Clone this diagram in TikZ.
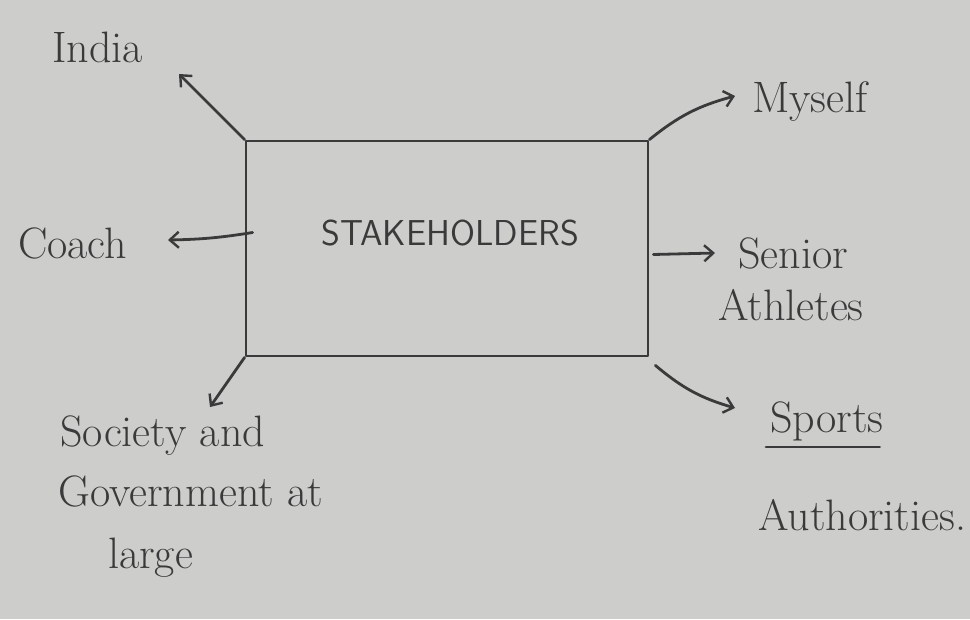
\documentclass[tikz,border=0pt]{standalone}
\usetikzlibrary{arrows.meta}
\definecolor{paper}{HTML}{CDCDCB}
\definecolor{ink}{HTML}{3A3A3A}
\begin{document}
\begin{tikzpicture}[x=1pt,y=-1pt,
  ink line/.style={draw=ink,line width=2.8pt,line cap=round,line join=round},
  arr/.style={ink line,-{Straight Barb[length=9pt,width=16pt,line width=2.4pt]}},
  box/.style={ink line,rectangle,minimum width=402pt,minimum height=215pt,inner sep=0pt},
  lbl/.style={text=ink,font=\fontsize{44}{60}\selectfont,inner sep=0pt,anchor=base west},
  title/.style={text=ink,font=\fontsize{36}{40}\selectfont\sffamily,inner sep=0pt,anchor=base}]
\fill[paper] (0,0) rectangle (970,619);
\useasboundingbox (0,0) rectangle (970,619);

\node[box] (sh) at (447,248.5) {};
\node[title] (t) at (450,245) {STAKEHOLDERS};

\node[lbl] (india) at (52,62) {India};
\node[lbl] (coach) at (18,258) {Coach};
\node[lbl] (soc1) at (60,446) {Society and};
\node[lbl] (soc2) at (58,506) {Government at};
\node[lbl] (soc3) at (108,568) {large};
\node[lbl] (myself) at (752,112) {Myself};
\node[lbl] (senior) at (738,268) {Senior};
\node[lbl] (athl) at (718,320) {Athletes};
\node[lbl] (sports) at (770,432) {Sports};
\node[lbl] (auth) at (758,530) {Authorities.};
\draw[ink line] ([yshift=-15pt,xshift=-4pt]sports.base west) -- ([yshift=-15pt,xshift=-4pt]sports.base east);

\coordinate (cIndia) at (179,74);
\coordinate (cCoach) at (168,240);
\coordinate (cSoc) at (210,407);
\coordinate (cMy) at (735,96);
\coordinate (cSen) at (715,253);
\coordinate (cSp) at (735,408);

\draw[arr] (sh.north west) -- (cIndia);
\draw[arr] ([yshift=16pt,xshift=8pt]sh.west) to[bend left=4] (cCoach);
\draw[arr] (sh.south west) -- (cSoc);
\draw[arr] (sh.north east) to[bend left=12] (cMy);
\draw[arr] ([yshift=-6pt,xshift=4pt]sh.east) -- (cSen);
\draw[arr] ([xshift=6pt,yshift=-8pt]sh.south east) to[bend right=12] (cSp);
\end{tikzpicture}
\end{document}
